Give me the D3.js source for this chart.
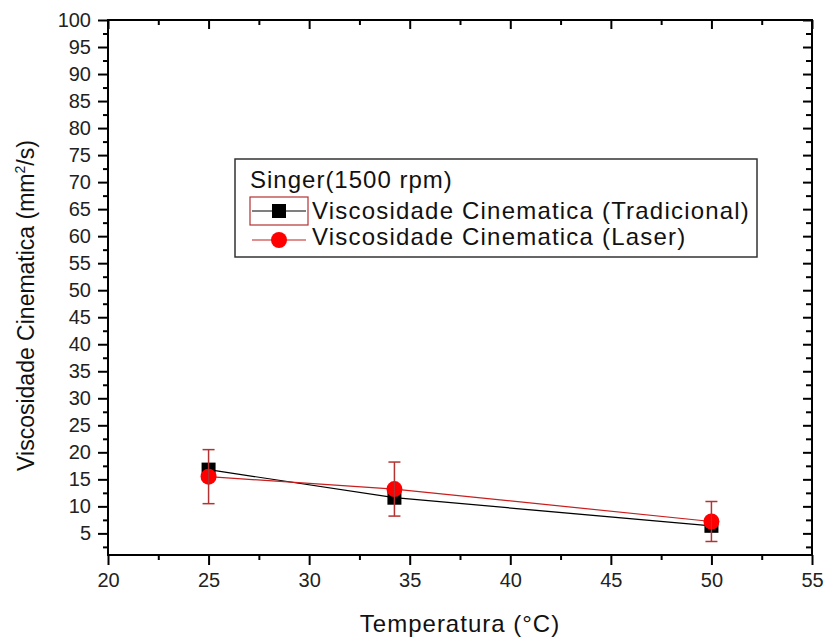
<!DOCTYPE html>
<html>
<head>
<meta charset="utf-8">
<script src="https://cdn.jsdelivr.net/npm/d3@7"></script>
<style>
  html, body { margin: 0; padding: 0; background: #fff; }
  svg { display: block; font-family: "Liberation Sans", Arial, sans-serif; }
</style>
</head>
<body>
<svg id="chart" width="827" height="641"></svg>
<script>
// Kinematic viscosity vs temperature, Singer oil at 1500 rpm
const temperatures = [25, 34.24, 50];
const tradicional = [16.8, 11.6, 6.4];
const laser = [15.5, 13.2, 7.2];
const laserErr = [5.0, 5.0, 3.7];

const xTicks = [20, 25, 30, 35, 40, 45, 50, 55];
const yTicks = [5, 10, 15, 20, 25, 30, 35, 40, 45, 50, 55, 60, 65, 70, 75, 80, 85, 90, 95, 100];

const legendTitle = "Singer(1500 rpm)";
const seriesNames = ["Viscosidade Cinematica (Tradicional)", "Viscosidade Cinematica (Laser)"];

const svg = d3.select("#chart");
const margin = { left: 108, right: 15, top: 20, bottom: 86 };
const W = 827, H = 641;

const x = d3.scaleLinear().domain([20, 55]).range([margin.left, W - margin.right]);
const y = d3.scaleLinear().domain([1, 100]).range([H - margin.bottom, margin.top]);

const x0 = x.range()[0], x1 = x.range()[1];
const y0 = y.range()[0], y1 = y.range()[1];

const minorX = d3.range(22.5, 55, 5);
const minorY = d3.range(2.5, 100, 5);

function styleAxis(g) {
  g.select(".domain").remove();
  g.selectAll(".tick line").attr("stroke", "#000").attr("stroke-width", 2);
  g.selectAll("text").attr("fill", "#222").attr("font-size", 20)
    .attr("font-family", "Liberation Sans, Arial, sans-serif");
}

// bottom axis: ticks outward
svg.append("g").attr("transform", `translate(0,${y0})`)
  .call(d3.axisBottom(x).tickValues(xTicks).tickSize(10).tickPadding(8).tickFormat(d3.format("d")))
  .call(styleAxis);
svg.append("g").attr("transform", `translate(0,${y0})`)
  .call(d3.axisBottom(x).tickValues(minorX).tickSize(5).tickFormat(""))
  .call(styleAxis);

// left axis: ticks outward
svg.append("g").attr("transform", `translate(${x0},0)`)
  .call(d3.axisLeft(y).tickValues(yTicks).tickSize(10).tickPadding(7).tickFormat(d3.format("d")))
  .call(styleAxis);
svg.append("g").attr("transform", `translate(${x0},0)`)
  .call(d3.axisLeft(y).tickValues(minorY).tickSize(5).tickFormat(""))
  .call(styleAxis);

// top axis: ticks inward
svg.append("g").attr("transform", `translate(0,${y1})`)
  .call(d3.axisBottom(x).tickValues(xTicks).tickSize(9).tickFormat(""))
  .call(styleAxis);
svg.append("g").attr("transform", `translate(0,${y1})`)
  .call(d3.axisBottom(x).tickValues(minorX).tickSize(5).tickFormat(""))
  .call(styleAxis);

// right axis: ticks inward
svg.append("g").attr("transform", `translate(${x1},0)`)
  .call(d3.axisLeft(y).tickValues(yTicks).tickSize(9).tickFormat(""))
  .call(styleAxis);
svg.append("g").attr("transform", `translate(${x1},0)`)
  .call(d3.axisLeft(y).tickValues(minorY).tickSize(6).tickFormat(""))
  .call(styleAxis);

// frame
svg.append("rect").attr("x", x0).attr("y", y1).attr("width", x1 - x0).attr("height", y0 - y1)
  .attr("fill", "none").attr("stroke", "#000").attr("stroke-width", 2);

// axis titles
svg.append("text").attr("x", (x0 + x1) / 2).attr("y", 632).attr("text-anchor", "middle")
  .attr("font-size", 24).attr("letter-spacing", 1).attr("fill", "#111").text("Temperatura (°C)");

const yl = svg.append("text").attr("transform", `translate(34,${(y0 + y1) / 2 + 18}) rotate(-90)`)
  .attr("text-anchor", "middle").attr("font-size", 23).attr("fill", "#111");
yl.append("tspan").text("Viscosidade Cinematica (mm");
yl.append("tspan").attr("font-size", 14).attr("dy", -9).text("2");
yl.append("tspan").attr("dy", 9).text("/s)");

// series data
const tradData = temperatures.map((t, i) => ({ t, v: tradicional[i] }));
const laserData = temperatures.map((t, i) => ({ t, v: laser[i], e: laserErr[i] }));

const line = d3.line().x(d => x(d.t)).y(d => y(d.v));

svg.append("path").datum(tradData).attr("d", line)
  .attr("fill", "none").attr("stroke", "#000").attr("stroke-width", 1.2);
svg.append("path").datum(laserData).attr("d", line)
  .attr("fill", "none").attr("stroke", "#c81e1e").attr("stroke-width", 1.2);

const sq = 14;
svg.selectAll("rect.trad").data(tradData).enter().append("rect").attr("class", "trad")
  .attr("x", d => x(d.t) - sq / 2).attr("y", d => y(d.v) - sq / 2)
  .attr("width", sq).attr("height", sq).attr("fill", "#000");

// error bars for laser series
const eb = svg.selectAll("g.err").data(laserData).enter().append("g").attr("class", "err")
  .attr("stroke", "#b43232").attr("stroke-width", 1.5);
eb.append("line").attr("x1", d => x(d.t)).attr("x2", d => x(d.t))
  .attr("y1", d => y(d.v + d.e)).attr("y2", d => y(d.v - d.e));
eb.append("line").attr("x1", d => x(d.t) - 6).attr("x2", d => x(d.t) + 6)
  .attr("y1", d => y(d.v + d.e)).attr("y2", d => y(d.v + d.e));
eb.append("line").attr("x1", d => x(d.t) - 6).attr("x2", d => x(d.t) + 6)
  .attr("y1", d => y(d.v - d.e)).attr("y2", d => y(d.v - d.e));

svg.selectAll("circle.laser").data(laserData).enter().append("circle").attr("class", "laser")
  .attr("cx", d => x(d.t)).attr("cy", d => y(d.v)).attr("r", 8).attr("fill", "#f00");

// error bar stems drawn over the circles
svg.selectAll("line.stem").data(laserData).enter().append("line").attr("class", "stem")
  .attr("x1", d => x(d.t)).attr("x2", d => x(d.t))
  .attr("y1", d => y(d.v) - 8).attr("y2", d => y(d.v) + 8)
  .attr("stroke", "#b43232").attr("stroke-width", 1.2);

// legend
const lg = svg.append("g");
lg.append("rect").attr("x", 235).attr("y", 159).attr("width", 522).attr("height", 98)
  .attr("fill", "#fff").attr("stroke", "#333").attr("stroke-width", 1.5);
lg.append("text").attr("x", 250).attr("y", 188).attr("font-size", 24).attr("letter-spacing", 1)
  .attr("fill", "#111").text(legendTitle);

// entry 1: traditional
lg.append("rect").attr("x", 250).attr("y", 197).attr("width", 58).attr("height", 28)
  .attr("fill", "none").attr("stroke", "#b43232").attr("stroke-width", 1.2);
lg.append("line").attr("x1", 252).attr("x2", 306).attr("y1", 211).attr("y2", 211)
  .attr("stroke", "#000").attr("stroke-width", 1.2);
lg.append("rect").attr("x", 272).attr("y", 204).attr("width", 14).attr("height", 14).attr("fill", "#000");
lg.append("text").attr("x", 312).attr("y", 219).attr("font-size", 24).attr("letter-spacing", 1.2)
  .attr("fill", "#111").text(seriesNames[0]);

// entry 2: laser
lg.append("line").attr("x1", 252).attr("x2", 306).attr("y1", 240).attr("y2", 240)
  .attr("stroke", "#c81e1e").attr("stroke-width", 1.2);
lg.append("circle").attr("cx", 279).attr("cy", 240).attr("r", 8).attr("fill", "#f00");
lg.append("text").attr("x", 312).attr("y", 245).attr("font-size", 24).attr("letter-spacing", 1.2)
  .attr("fill", "#111").text(seriesNames[1]);
</script>
</body>
</html>
